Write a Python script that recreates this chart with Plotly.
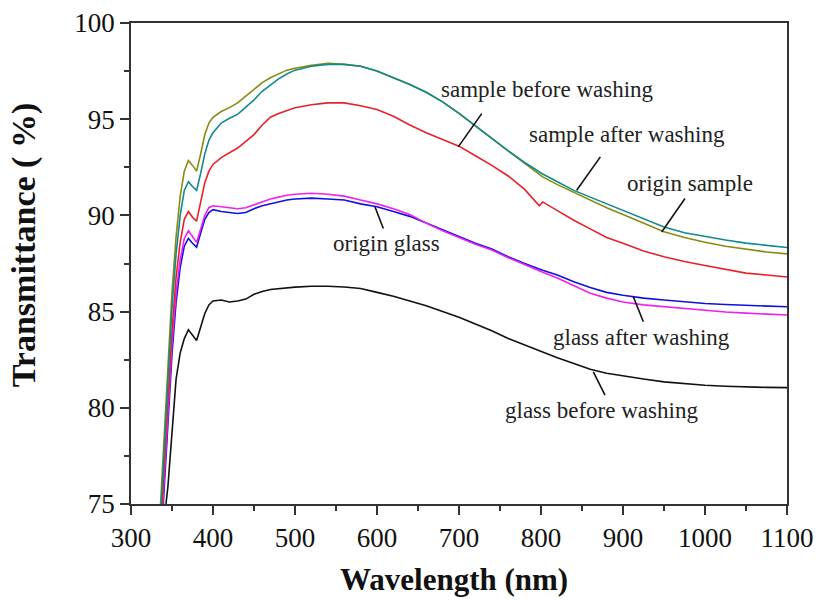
import plotly.graph_objects as go

wavelength = [335, 340, 345, 350, 355, 360, 365, 370, 375, 380, 385, 390, 395, 400,
              410, 420, 430, 440, 450, 460, 470, 480, 490, 500, 520, 540, 560, 580,
              600, 620, 640, 660, 680, 700, 720, 740, 760, 780, 798, 802, 820, 840,
              860, 880, 900, 925, 950, 975, 1000, 1025, 1050, 1075, 1100]

origin_sample = [74.2, 78.3, 82.5, 86.0, 88.9, 91.0, 92.3, 92.85, 92.6, 92.3, 93.2, 94.2, 94.8, 95.1,
                 95.4, 95.6, 95.85, 96.2, 96.55, 96.9, 97.15, 97.35, 97.55, 97.65, 97.8, 97.9, 97.85, 97.75,
                 97.5, 97.15, 96.8, 96.4, 95.9, 95.3, 94.65, 94.0, 93.35, 92.7, 92.1, 92.0, 91.6, 91.2,
                 90.8, 90.4, 90.05, 89.6, 89.15, 88.85, 88.6, 88.4, 88.25, 88.1, 88.0]

sample_after = [73.5, 77.4, 81.5, 85.2, 88.0, 90.0, 91.3, 91.75, 91.5, 91.3, 92.2, 93.2, 93.9, 94.3,
                94.8, 95.05, 95.25, 95.6, 96.0, 96.45, 96.8, 97.1, 97.35, 97.55, 97.75, 97.85, 97.85, 97.75,
                97.5, 97.15, 96.8, 96.4, 95.9, 95.3, 94.65, 94.0, 93.35, 92.75, 92.25, 92.15, 91.75, 91.3,
                90.95, 90.6, 90.25, 89.85, 89.4, 89.1, 88.9, 88.72, 88.56, 88.43, 88.33]

sample_before = [72.8, 76.6, 80.5, 84.0, 86.8, 88.6, 89.8, 90.2, 89.9, 89.7, 90.7, 91.7, 92.3, 92.65,
                 93.0, 93.25, 93.5, 93.85, 94.2, 94.7, 95.1, 95.3, 95.45, 95.6, 95.75, 95.85, 95.85, 95.7,
                 95.5, 95.15, 94.7, 94.3, 93.95, 93.6, 93.1, 92.6, 92.05, 91.35, 90.5, 90.7, 90.25, 89.75,
                 89.3, 88.85, 88.55, 88.15, 87.85, 87.6, 87.4, 87.2, 87.0, 86.9, 86.8]

origin_glass = [72.3, 76.1, 79.8, 83.3, 86.0, 87.7, 88.8, 89.2, 88.9, 88.6, 89.3, 90.0, 90.4, 90.5,
                90.45, 90.4, 90.35, 90.4, 90.55, 90.7, 90.85, 90.95, 91.05, 91.1, 91.15, 91.1, 91.0, 90.8,
                90.6, 90.35, 90.05, 89.6, 89.2, 88.85, 88.5, 88.2, 87.8, 87.45, 87.1, 87.05, 86.75, 86.35,
                85.95, 85.7, 85.5, 85.35, 85.25, 85.15, 85.05, 84.98, 84.92, 84.86, 84.82]

glass_after = [71.8, 75.7, 79.3, 82.8, 85.5, 87.3, 88.4, 88.8, 88.55, 88.35, 89.1, 89.8, 90.15, 90.3,
               90.2, 90.15, 90.1, 90.15, 90.35, 90.5, 90.6, 90.7, 90.8, 90.85, 90.9, 90.85, 90.8, 90.6,
               90.45, 90.2, 89.95, 89.6, 89.25, 88.9, 88.55, 88.25, 87.85, 87.5, 87.2, 87.15, 86.9, 86.55,
               86.25, 86.0, 85.85, 85.7, 85.6, 85.5, 85.42, 85.37, 85.32, 85.28, 85.25]

glass_before = [71.5, 74.0, 75.9, 78.5, 81.5, 82.85, 83.6, 84.05, 83.8, 83.5, 84.2, 84.9, 85.35, 85.55,
                85.6, 85.5, 85.55, 85.65, 85.9, 86.05, 86.15, 86.2, 86.25, 86.27, 86.32, 86.32, 86.28, 86.2,
                86.0, 85.8, 85.55, 85.3, 85.0, 84.7, 84.35, 84.0, 83.6, 83.25, 82.95, 82.9, 82.6, 82.3,
                82.0, 81.8, 81.65, 81.5, 81.35, 81.25, 81.17, 81.12, 81.08, 81.06, 81.05]

series = [
    ("glass before washing", glass_before, "#111111"),
    ("glass after washing", glass_after, "#1010e0"),
    ("origin glass", origin_glass, "#f020f0"),
    ("sample before washing", sample_before, "#e8202a"),
    ("origin sample", origin_sample, "#8a8a10"),
    ("sample after washing", sample_after, "#108a8a"),
]

label_text = ["sample before washing", "sample after washing", "origin sample",
              "origin glass", "glass after washing", "glass before washing"]
label_x = [808, 905, 982, 611, 923, 874]
label_y = [96.56, 94.22, 91.67, 88.56, 83.67, 79.88]
pointer_x0 = [727.7, 872.4, 975.6, 597.6, 912.6, 863.8]
pointer_y0 = [95.29, 93.04, 90.88, 90.44, 85.77, 81.87]
pointer_x1 = [699.1, 843.5, 947.2, 607.7, 924.8, 878.0]
pointer_y1 = [93.56, 91.31, 89.14, 89.32, 84.47, 80.66]

fig = go.Figure()
for name, vals, color in series:
    fig.add_trace(go.Scatter(x=wavelength, y=vals, mode="lines", name=name,
                             line=dict(color=color, width=1.6), showlegend=False))

font_family = "Liberation Serif"
annotations = []
for t, x, y in zip(label_text, label_x, label_y):
    annotations.append(dict(x=x, y=y, xref="x", yref="y", text=t, showarrow=False,
                            font=dict(family=font_family, size=23, color="#222"),
                            xanchor="center", yanchor="middle"))
annotations.append(dict(x=0.492, y=-0.197, xref="paper", yref="paper",
                        text="<b>Wavelength (nm)</b>", showarrow=False,
                        font=dict(family=font_family, size=31, color="#111"),
                        xanchor="center", yanchor="bottom"))
annotations.append(dict(x=-0.163, y=0.538, xref="paper", yref="paper",
                        text="<b>Transmittance ( %)</b>", showarrow=False, textangle=-90,
                        font=dict(family=font_family, size=34, color="#111"),
                        xanchor="center", yanchor="middle"))

shapes = []
for a, b, c, d in zip(pointer_x0, pointer_y0, pointer_x1, pointer_y1):
    shapes.append(dict(type="line", xref="x", yref="y", x0=a, y0=b, x1=c, y1=d,
                       line=dict(color="#111", width=1.6)))

fig.update_layout(
    width=818, height=600,
    margin=dict(l=131, r=31, t=23, b=96, autoexpand=False),
    paper_bgcolor="white", plot_bgcolor="white",
    annotations=annotations, shapes=shapes,
    font=dict(family=font_family, color="#111"),
)
fig.update_xaxes(range=[300, 1100], dtick=100, tick0=300, showgrid=False, zeroline=False,
                 automargin=False,
                 showline=True, linecolor="#333", linewidth=1.8, mirror=True,
                 ticks="outside", ticklen=9, tickwidth=1.5, tickcolor="#333",
                 tickfont=dict(family=font_family, size=27, color="#111"),
                 minor=dict(dtick=50, ticks="outside", ticklen=5, tickwidth=1.5, tickcolor="#333", showgrid=False))
fig.update_yaxes(range=[75, 100], dtick=5, tick0=75, showgrid=False, zeroline=False,
                 automargin=False,
                 showline=True, linecolor="#333", linewidth=1.8, mirror=True,
                 ticks="outside", ticklen=9, tickwidth=1.5, tickcolor="#333",
                 tickfont=dict(family=font_family, size=27, color="#111"),
                 minor=dict(dtick=2.5, ticks="outside", ticklen=5, tickwidth=1.5, tickcolor="#333", showgrid=False))

fig.write_html("out.html")
